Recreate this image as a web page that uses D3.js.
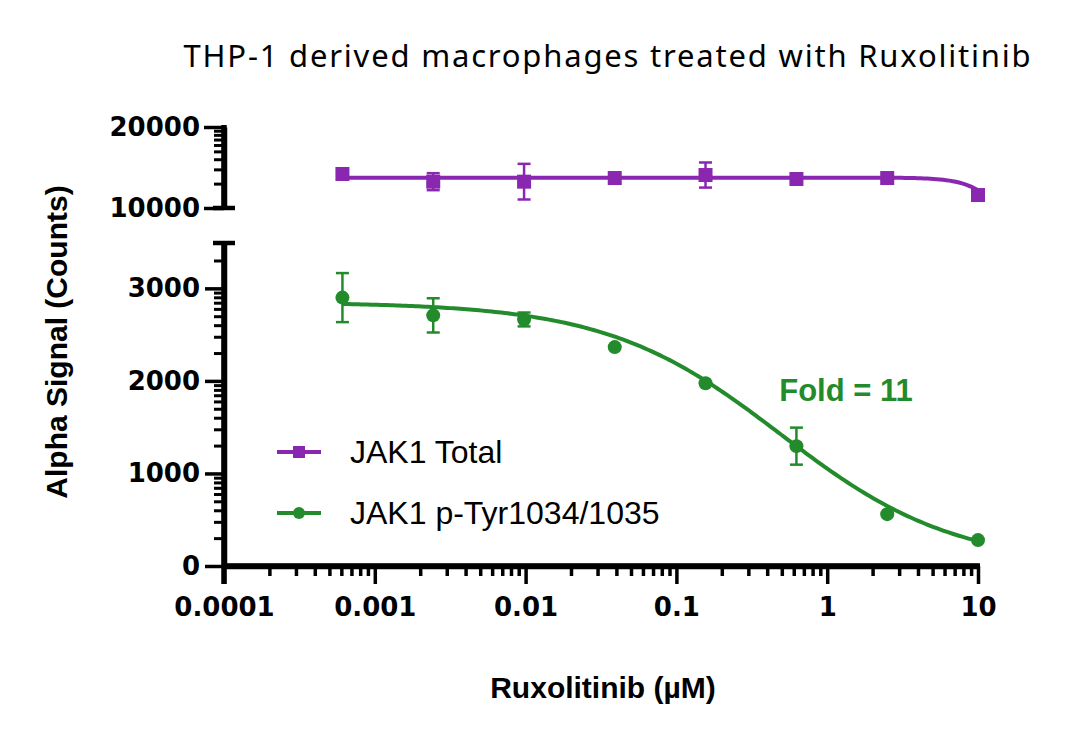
<!DOCTYPE html>
<html>
<head>
<meta charset="utf-8">
<script src="https://cdn.jsdelivr.net/npm/d3@7"></script>
<style>
  body { margin: 0; background: #fff; }
  svg { display: block; }
</style>
</head>
<body>
<svg id="chart"></svg>
<script>
// concentrations (µM)
const conc = [0.00061, 0.00244, 0.00977, 0.039, 0.156, 0.625, 2.5, 10]

// JAK1 Total (upper panel)
const totalMean = [14200, 13250, 13250, 13700, 14070, 13580, 13700, 11600]
const totalErr = [0, 1050, 2200, 0, 1550, 0, 0, 0]

// JAK1 p-Tyr1034/1035 (lower panel)
const phosMean = [2900, 2708, 2664, 2365, 1975, 1295, 560, 280]
const phosErr = [265, 185, 75, 0, 0, 200, 0, 0]

// 4PL fit parameters
const totalFit = { top: 13750, bottom: 0, ic50: 18, hill: 3.5 }
const phosFit = { top: 2850, bottom: 0, ic50: 0.49, hill: 0.75 }

const xTicks = [0.0001, 0.001, 0.01, 0.1, 1, 10]
const xTickLabels = ['0.0001', '0.001', '0.01', '0.1', '1', '10']
const yLowTicks = [0, 1000, 2000, 3000]
const yHighTicks = [10000, 20000]

const width = 1080, height = 738
const purple = '#8a27b0'
const green = '#238b2c'
const tickFont = '"DejaVu Sans", sans-serif'
const labelFont = '"Liberation Sans", Arial, sans-serif'

const svg = d3.select('#chart').attr('width', width).attr('height', height)
svg.append('rect').attr('width', width).attr('height', height).attr('fill', '#fff')

const x = d3.scaleLog().domain([0.0001, 10]).range([224, 978])
const yLow = d3.scaleLinear().domain([0, 3490]).range([566, 243])
const yHigh = d3.scaleLinear().domain([10000, 20000]).range([208, 127])

const fourPL = (p) => (c) => p.bottom + (p.top - p.bottom) / (1 + Math.pow(c / p.ic50, p.hill))

// log-style minor ticks between linear majors
function minorLinear(lo, hi, step) {
  const out = []
  for (let v = lo; v < hi; v += step) {
    for (let k = 2; k <= 9; k++) {
      const m = v + step * Math.log10(k)
      if (m < hi - 20) out.push(m)
    }
  }
  return out
}
function minorLog(lo, hi) {
  const out = []
  for (let d = lo; d < hi * 0.999; d *= 10) {
    for (let k = 2; k <= 9; k++) out.push(d * k)
  }
  return out
}

const axisStroke = 5.5

function styleAxis(g) {
  g.select('.domain').attr('stroke', '#000').attr('stroke-width', axisStroke)
  g.selectAll('.tick line').attr('stroke', '#000').attr('stroke-width', 3.5)
  g.selectAll('.tick text')
    .attr('fill', '#000')
    .style('font-family', tickFont)
    .style('font-weight', 'bold')
    .style('font-size', '26px')
}

// X axis
svg.append('g')
  .attr('transform', `translate(0,${yLow(0)})`)
  .call(d3.axisBottom(x).tickValues(minorLog(0.0001, 10)).tickSize(10).tickSizeOuter(0).tickFormat(''))
  .call(styleAxis)
svg.append('g')
  .attr('transform', `translate(0,${yLow(0)})`)
  .call(d3.axisBottom(x).tickValues(xTicks).tickSize(18).tickSizeOuter(0).tickPadding(14)
    .tickFormat((d, i) => xTickLabels[i]))
  .call(styleAxis)
  .call(g => g.select('.domain').attr('d', `M${x(0.0001) - 2},0H${x(10) + 2}`))

// Lower Y axis
svg.append('g')
  .attr('transform', `translate(${x(0.0001)},0)`)
  .call(d3.axisLeft(yLow).tickValues(minorLinear(0, 3490, 1000)).tickSize(10).tickSizeOuter(0).tickFormat(''))
  .call(styleAxis)
  .call(g => g.selectAll('.tick line').attr('stroke-width', 3))
svg.append('g')
  .attr('transform', `translate(${x(0.0001)},0)`)
  .call(d3.axisLeft(yLow).tickValues(yLowTicks).tickSize(19).tickSizeOuter(0).tickPadding(5)
    .tickFormat(d3.format('d')))
  .call(styleAxis)
  .call(g => g.select('.domain').attr('d', `M0,${yLow(3490)}V${yLow(0) + 18}`))

// Upper Y axis
svg.append('g')
  .attr('transform', `translate(${x(0.0001)},0)`)
  .call(d3.axisLeft(yHigh).tickValues(minorLinear(10000, 20000, 10000)).tickSize(10).tickSizeOuter(0).tickFormat(''))
  .call(styleAxis)
  .call(g => g.selectAll('.tick line').attr('stroke-width', 3))
svg.append('g')
  .attr('transform', `translate(${x(0.0001)},0)`)
  .call(d3.axisLeft(yHigh).tickValues(yHighTicks).tickSize(20).tickSizeOuter(0).tickPadding(4)
    .tickFormat(d3.format('d')))
  .call(styleAxis)
  .call(g => g.select('.domain').attr('d', `M0,${yHigh(20000) - 2}V${yHigh(10000) + 2}`))

// break caps
const axX = x(0.0001)
;[yHigh(10000), yLow(3490)].forEach(yy => {
  svg.append('line')
    .attr('x1', axX - 11).attr('x2', axX + 11)
    .attr('y1', yy).attr('y2', yy)
    .attr('stroke', '#000').attr('stroke-width', 4.5)
})

// fitted curves
const curveX = d3.range(0, 201).map(i => Math.pow(10, Math.log10(conc[0]) + i / 200 * (Math.log10(10) - Math.log10(conc[0]))))
const line = (f, ys) => d3.line().x(c => x(c)).y(c => ys(f(c)))(curveX)

svg.append('path')
  .attr('d', line(fourPL(totalFit), yHigh))
  .attr('fill', 'none').attr('stroke', purple).attr('stroke-width', 4)
svg.append('path')
  .attr('d', line(fourPL(phosFit), yLow))
  .attr('fill', 'none').attr('stroke', green).attr('stroke-width', 4)

// error bars
function errorBars(means, errs, ys, color, capW) {
  const g = svg.append('g').attr('stroke', color).attr('stroke-width', 2.5)
  conc.forEach((c, i) => {
    if (!errs[i]) return
    const cx = x(c)
    const y1 = ys(means[i] + errs[i]), y2 = ys(means[i] - errs[i])
    g.append('line').attr('x1', cx).attr('x2', cx).attr('y1', y1).attr('y2', y2)
    ;[y1, y2].forEach(yy => g.append('line')
      .attr('x1', cx - capW / 2).attr('x2', cx + capW / 2).attr('y1', yy).attr('y2', yy))
  })
}
errorBars(totalMean, totalErr, yHigh, purple, 13)
errorBars(phosMean, phosErr, yLow, green, 13)

// markers
svg.append('g').selectAll('rect')
  .data(conc)
  .join('rect')
  .attr('x', (c) => x(c) - 7)
  .attr('y', (c, i) => yHigh(totalMean[i]) - 7)
  .attr('width', 14).attr('height', 14)
  .attr('fill', purple)

svg.append('g').selectAll('circle')
  .data(conc)
  .join('circle')
  .attr('cx', (c) => x(c))
  .attr('cy', (c, i) => yLow(phosMean[i]))
  .attr('r', 7)
  .attr('fill', green)

// legend
const legend = [
  { label: 'JAK1 Total', color: purple, shape: 'square', y: 452 },
  { label: 'JAK1 p-Tyr1034/1035', color: green, shape: 'circle', y: 513 }
]
legend.forEach(d => {
  svg.append('line')
    .attr('x1', 277).attr('x2', 321).attr('y1', d.y).attr('y2', d.y)
    .attr('stroke', d.color).attr('stroke-width', 4)
  if (d.shape === 'square') {
    svg.append('rect').attr('x', 293).attr('y', d.y - 6).attr('width', 12).attr('height', 12).attr('fill', d.color)
  } else {
    svg.append('circle').attr('cx', 299).attr('cy', d.y).attr('r', 6).attr('fill', d.color)
  }
  svg.append('text')
    .attr('x', 350).attr('y', d.y + 11)
    .text(d.label)
    .style('font-family', labelFont)
    .style('font-size', '32px')
    .attr('fill', '#000')
})

// fold annotation
svg.append('text')
  .attr('x', 846).attr('y', 401)
  .attr('text-anchor', 'middle')
  .text('Fold = 11')
  .style('font-family', labelFont)
  .style('font-weight', 'bold')
  .style('font-size', '31px')
  .attr('fill', green)

// title
svg.append('text')
  .attr('x', 608).attr('y', 67)
  .attr('text-anchor', 'middle')
  .text('THP-1 derived macrophages treated with Ruxolitinib')
  .style('font-family', '"Noto Sans", sans-serif')
  .style('font-size', '31px')
  .style('letter-spacing', '1.8px')
  .attr('fill', '#000')

// axis titles
svg.append('text')
  .attr('x', 603).attr('y', 698)
  .attr('text-anchor', 'middle')
  .text('Ruxolitinib (µM)')
  .style('font-family', labelFont)
  .style('font-weight', 'bold')
  .style('font-size', '30px')
  .attr('fill', '#000')

svg.append('text')
  .attr('transform', 'translate(67,342) rotate(-90)')
  .attr('text-anchor', 'middle')
  .text('Alpha Signal (Counts)')
  .style('font-family', labelFont)
  .style('font-weight', 'bold')
  .style('font-size', '30px')
  .attr('fill', '#000')
</script>
</body>
</html>
